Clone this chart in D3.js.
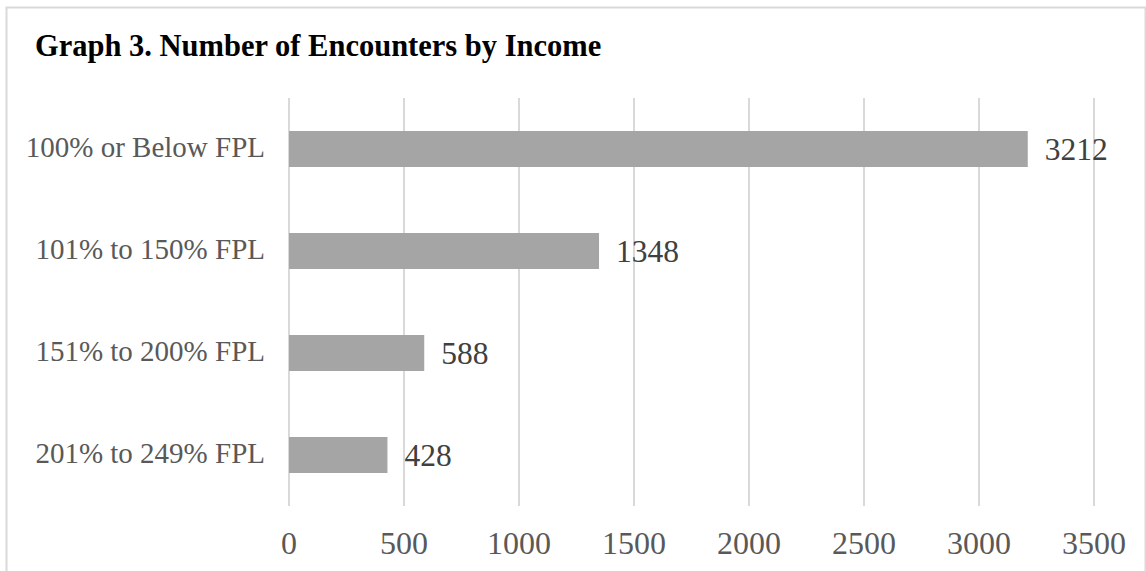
<!DOCTYPE html>
<meta charset="utf-8">
<title>Graph 3</title>
<style>

html, body {
  margin: 0;
  background: #fff;
}

text {
  font-family: "Liberation Serif", "Times New Roman", serif;
}

.grid line {
  stroke: #d9d9d9;
  stroke-width: 2px;
}

.bar {
  fill: #a5a5a5;
}

.cat {
  fill: #595959;
  font-size: 29px;
}

.tick-label {
  fill: #595959;
  font-size: 32px;
}

.value {
  fill: #404040;
  font-size: 31.5px;
}

.title {
  font-size: 30.5px;
  font-weight: bold;
  fill: #000;
}

</style>
<body>
<script src="https://cdn.jsdelivr.net/npm/d3@7"></script>
<script>

var width = 1146,
    height = 571;

var categories = ["100% or Below FPL", "101% to 150% FPL", "151% to 200% FPL", "201% to 249% FPL"],
    values = [3212, 1348, 588, 428],
    ticks = [0, 500, 1000, 1500, 2000, 2500, 3000, 3500];

var x = d3.scaleLinear()
    .domain([0, 3500])
    .range([289, 1094]);

var y = d3.scaleBand()
    .domain(categories)
    .range([98, 506])
    .paddingInner(0.647)
    .paddingOuter(0.3235);

var svg = d3.select("body").append("svg")
    .attr("width", width)
    .attr("height", height);

// chart frame
svg.append("rect")
    .attr("x", 6.5)
    .attr("y", 7.5)
    .attr("width", 1139)
    .attr("height", 580)
    .attr("fill", "none")
    .attr("stroke", "#d9d9d9")
    .attr("stroke-width", 2);

svg.append("text")
    .attr("class", "title")
    .attr("x", 35)
    .attr("y", 56)
    .text("Graph 3. Number of Encounters by Income");

svg.append("g")
    .attr("class", "grid")
  .selectAll("line")
    .data(ticks)
  .enter().append("line")
    .attr("x1", function(d) { return x(d); })
    .attr("x2", function(d) { return x(d); })
    .attr("y1", 98)
    .attr("y2", 506);

svg.append("g")
  .selectAll("text")
    .data(ticks)
  .enter().append("text")
    .attr("class", "tick-label")
    .attr("x", function(d) { return x(d); })
    .attr("y", 554)
    .attr("text-anchor", "middle")
    .text(function(d) { return d; });

svg.append("g")
  .selectAll("rect")
    .data(values)
  .enter().append("rect")
    .attr("class", "bar")
    .attr("x", x(0))
    .attr("y", function(d, i) { return y(categories[i]); })
    .attr("width", function(d) { return x(d) - x(0); })
    .attr("height", y.bandwidth());

svg.append("g")
  .selectAll("text")
    .data(values)
  .enter().append("text")
    .attr("class", "value")
    .attr("x", function(d) { return x(d) + 17; })
    .attr("y", function(d, i) { return y(categories[i]) + y.bandwidth() / 2; })
    .attr("dy", "0.35em")
    .text(function(d) { return d; });

svg.append("g")
  .selectAll("text")
    .data(categories)
  .enter().append("text")
    .attr("class", "cat")
    .attr("x", 265)
    .attr("y", function(d) { return y(d) + y.bandwidth() / 2; })
    .attr("dy", "0.28em")
    .attr("text-anchor", "end")
    .text(function(d) { return d; });

</script>
</body>
</html>
